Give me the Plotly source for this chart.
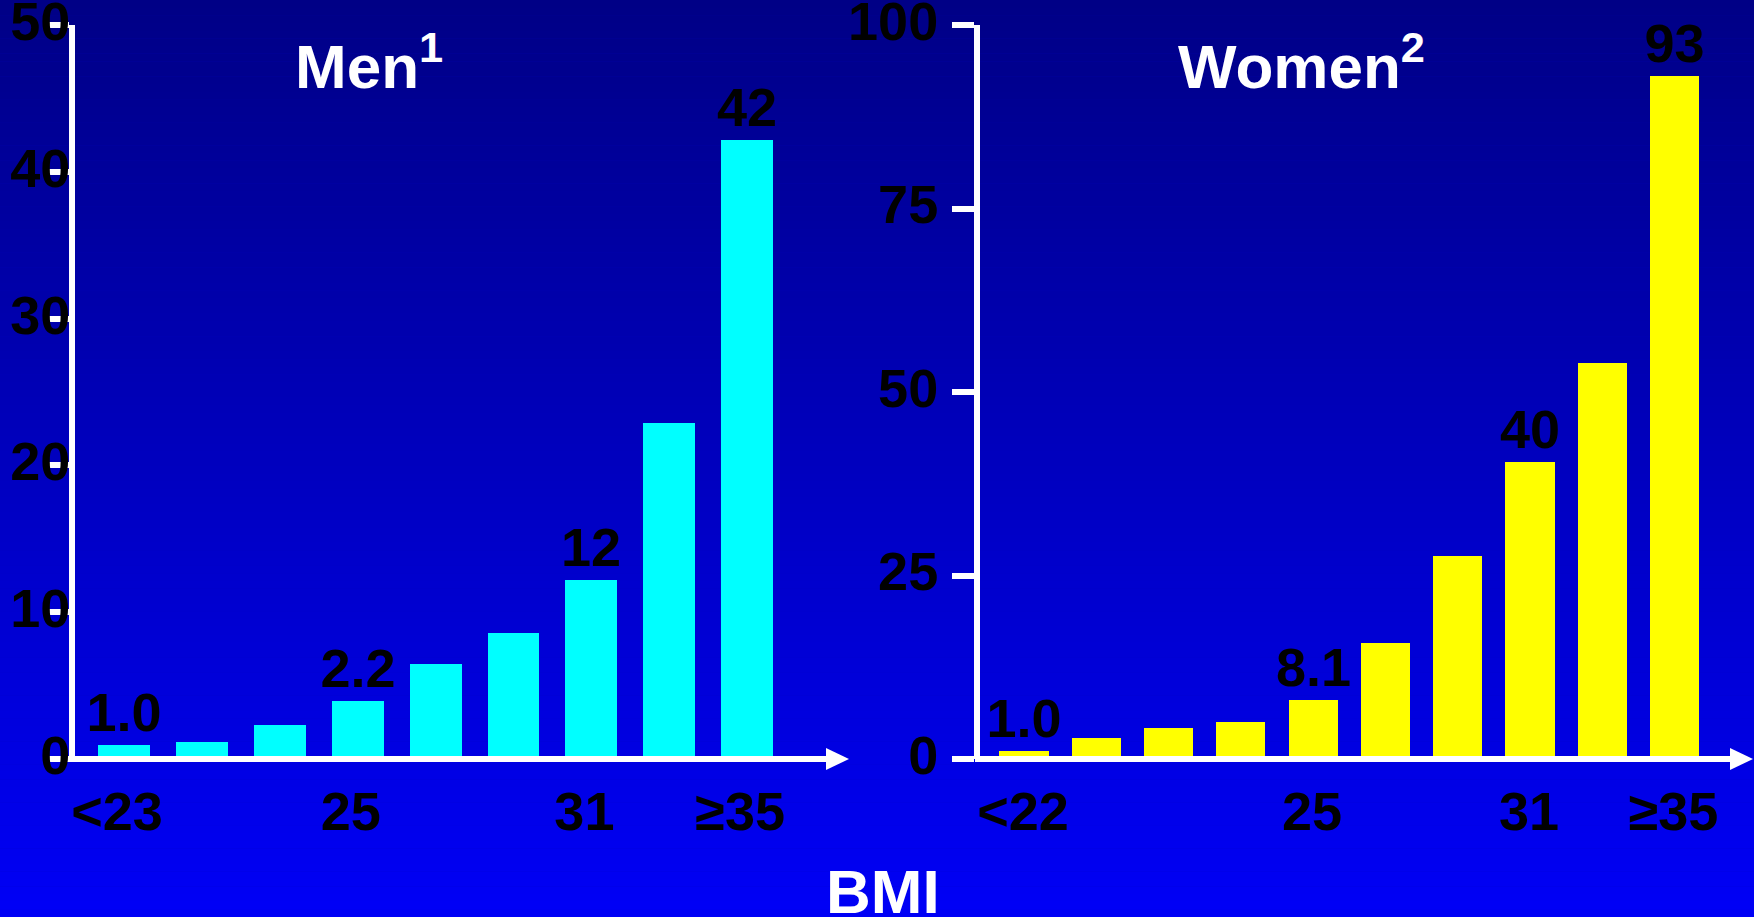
import plotly.graph_objects as go

# ---- data ----
men_values = [0.95, 1.15, 2.3, 3.95, 6.45, 8.6, 12.2, 22.9, 42.2]
men_labels = ["1.0", "", "", "2.2", "", "", "12", "", "42"]
men_ticks = ["<23", "", "", "25", "", "", "31", "", "≥35"]
men_yticks = [0, 10, 20, 30, 40, 50]

women_values = [1.05, 2.9, 4.2, 5.05, 8.1, 15.8, 27.6, 40.4, 54.0, 93.0]
women_labels = ["1.0", "", "", "", "8.1", "", "", "40", "", "93"]
women_ticks = ["<22", "", "", "", "25", "", "", "31", "", "≥35"]
women_yticks = [0, 25, 50, 75, 100]

titles = ["Men<sup>1</sup>", "Women<sup>2</sup>"]
x_title = "BMI"

# ---- layout helpers ----
W, H = 1754, 917
def fx(px):
    return px / W
def fy(py):
    return 1 - py / H

FONT = "Arial, Liberation Sans, sans-serif"
tick_font = dict(family=FONT, size=54, color="black", weight="bold")

fig = go.Figure()

fig.add_trace(go.Bar(
    x=list(range(len(men_values))), y=men_values, text=men_labels,
    textposition="outside", textfont=tick_font, constraintext="none",
    cliponaxis=False, marker=dict(color="#00FFFF", line=dict(width=0)),
    width=0.667, xaxis="x", yaxis="y", hoverinfo="skip",
))
fig.add_trace(go.Bar(
    x=list(range(len(women_values))), y=women_values, text=women_labels,
    textposition="outside", textfont=tick_font, constraintext="none",
    cliponaxis=False, marker=dict(color="#FFFF00", line=dict(width=0)),
    width=0.68, xaxis="x2", yaxis="y2", hoverinfo="skip",
))

def xaxis_cfg(dom_px, first_center, step, ticks, shift):
    lo = (dom_px[0] - first_center) / step
    hi = (dom_px[1] - first_center) / step
    tv = [i for i, t in enumerate(ticks) if t]
    tt = [t for t in ticks if t]
    return dict(domain=[fx(dom_px[0]), fx(dom_px[1])], range=[lo, hi],
                showline=False, showgrid=False, zeroline=False, ticks="",
                tickvals=tv, ticktext=tt, tickfont=tick_font,
                ticklabelstandoff=16, ticklabelshift=shift,
                fixedrange=True, automargin=False, ticklabeloverflow="allow")

def yaxis_cfg(rng, tickvals, standoff):
    return dict(domain=[fy(759), fy(25)], range=rng, showline=True,
                linecolor="white", linewidth=6, ticks="outside", ticklen=22,
                tickwidth=6, tickcolor="white", tickvals=tickvals,
                tickfont=tick_font, showgrid=False, zeroline=False,
                ticklabelstandoff=standoff, ticklabelshift=-4,
                fixedrange=True, automargin=False, ticklabeloverflow="allow")

shapes = []
# background gradient
N = 120
c0, c1 = 134, 246
for i in range(N):
    t = i / (N - 1)
    b = int(round(c0 + (c1 - c0) * t))
    shapes.append(dict(type="rect", xref="paper", yref="paper", x0=0, x1=1,
                       y0=1 - (i + 1.05) / N, y1=1 - i / N, layer="below",
                       line=dict(width=0), fillcolor=f"rgb(0,0,{b})"))

# x-axis lines with arrowheads
for x0, x1, tip in [(69, 828, 849), (975, 1732, 1753)]:
    shapes.append(dict(type="line", xref="paper", yref="paper",
                       x0=fx(x0), x1=fx(x1), y0=fy(759), y1=fy(759),
                       line=dict(color="white", width=6), layer="above"))
    shapes.append(dict(type="path", xref="paper", yref="paper",
                       path=f"M {fx(x1-2)},{fy(748)} L {fx(tip)},{fy(759)} L {fx(x1-2)},{fy(770)} Z",
                       fillcolor="white", line=dict(width=0), layer="above"))

fig.update_layout(
    width=W, height=H, margin=dict(l=0, r=0, t=0, b=0, pad=0, autoexpand=False),
    paper_bgcolor="rgb(0,0,190)", plot_bgcolor="rgba(0,0,0,0)",
    showlegend=False, bargap=0,
    xaxis=dict(**xaxis_cfg((75, 826), 124, 77.9, men_ticks, -7), anchor="y"),
    yaxis=dict(**yaxis_cfg([0, 50], men_yticks, -34), anchor="x"),
    xaxis2=dict(**xaxis_cfg((980, 1730), 1024, 72.28, women_ticks, -1), anchor="y2"),
    yaxis2=dict(**yaxis_cfg([0, 100], women_yticks, 3), anchor="x2"),
    shapes=shapes,
    annotations=[
        dict(text=titles[0], xref="paper", yref="paper", x=fx(293), y=fy(62),
             xanchor="left", yanchor="middle", showarrow=False,
             font=dict(family=FONT, size=62, color="white", weight="bold")),
        dict(text=titles[1], xref="paper", yref="paper", x=fx(1176), y=fy(62),
             xanchor="left", yanchor="middle", showarrow=False,
             font=dict(family=FONT, size=62, color="white", weight="bold")),
        dict(text=x_title, xref="paper", yref="paper", x=fx(883), y=fy(891),
             xanchor="center", yanchor="middle", showarrow=False,
             font=dict(family=FONT, size=62, color="white", weight="bold")),
    ],
)

fig.write_html("out.html", config={"displayModeBar": False},
               post_script="document.body.style.margin='0';document.body.style.overflow='hidden';")
